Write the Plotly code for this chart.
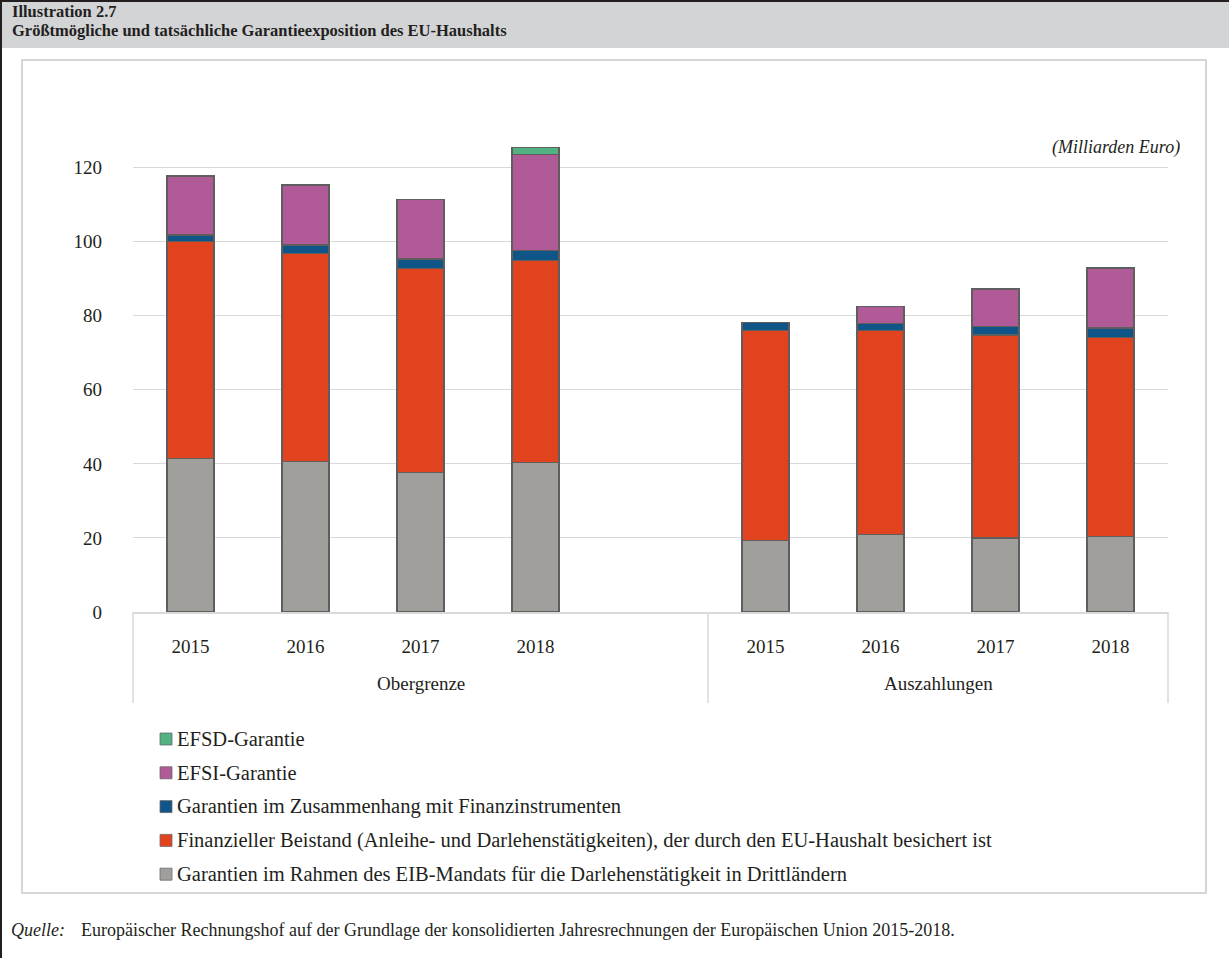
import plotly.graph_objects as go

W, H = 1229, 958

# ---- data (billion euro) -------------------------------------------------
years = ["2015", "2016", "2017", "2018"]
groups = ["Obergrenze", "Auszahlungen"]

# first four values: Obergrenze 2015-2018, last four: Auszahlungen 2015-2018
eib_mandat = [41.5, 40.7, 37.6, 40.3, 19.4, 21.0, 20.0, 20.3]
fin_beistand = [58.5, 56.1, 55.2, 54.7, 56.7, 54.9, 54.8, 53.9]
fin_instrumente = [1.8, 2.3, 2.5, 2.7, 2.1, 2.0, 2.2, 2.5]
efsi = [15.9, 16.2, 16.1, 25.9, None, 4.6, 10.2, 16.2]
efsd = [None, None, None, 1.9, None, None, None, None]

series_names = [
    "Garantien im Rahmen des EIB-Mandats für die Darlehenstätigkeit in Drittländern",
    "Finanzieller Beistand (Anleihe- und Darlehenstätigkeiten), der durch den EU-Haushalt besichert ist",
    "Garantien im Zusammenhang mit Finanzinstrumenten",
    "EFSI-Garantie",
    "EFSD-Garantie",
]
series_values = [eib_mandat, fin_beistand, fin_instrumente, efsi, efsd]
series_colors = ["#a09f9b", "#e2431f", "#0f5587", "#b05b98", "#52b282"]

# slot positions on the category axis: one empty slot separates the groups
slots = [0, 1, 2, 3, 5, 6, 7, 8]

# ---- geometry -------------------------------------------------------------
PL, PR, PT, PB = 133, 1168, 112, 612   # plot area in pixels
Y_MAX = 135
SERIF = "Liberation Serif"
INK = "#231f20"
GRID = "#d9d9d9"


def px(x):
    return (x - PL) / (PR - PL)


def py(y):
    return (PB - y) / (PB - PT)


fig = go.Figure()
for name, vals, col in zip(series_names, series_values, series_colors):
    fig.add_trace(go.Bar(
        x=slots, y=vals, name=name, width=0.41,
        marker=dict(color=col, line=dict(color="#5e5e5e", width=1.2)),
        showlegend=False,
    ))

shapes = []
annotations = []

# page frame and header band
shapes.append(dict(type="rect", xref="paper", yref="paper",
                   x0=px(0), x1=px(W), y0=py(0), y1=py(48),
                   fillcolor="#d3d4d6", line=dict(width=0), layer="below"))
shapes.append(dict(type="line", xref="paper", yref="paper",
                   x0=px(0), x1=px(W), y0=py(1), y1=py(1),
                   line=dict(color=INK, width=2)))
shapes.append(dict(type="line", xref="paper", yref="paper",
                   x0=px(1), x1=px(1), y0=py(0), y1=py(H),
                   line=dict(color=INK, width=2)))
# chart box
shapes.append(dict(type="rect", xref="paper", yref="paper",
                   x0=px(22), x1=px(1206), y0=py(60), y1=py(893),
                   line=dict(color="#c9c9c9", width=1.5), layer="below"))
# category separators below the axis
for xv in (PL, 708, PR):
    shapes.append(dict(type="line", xref="paper", yref="paper",
                       x0=px(xv), x1=px(xv), y0=py(PB), y1=py(703),
                       line=dict(color=GRID, width=1.5)))

# titles
annotations.append(dict(text="<b>Illustration 2.7</b>", xref="paper", yref="paper",
                        x=px(10), y=py(11), xanchor="left", yanchor="middle",
                        showarrow=False, font=dict(family=SERIF, size=16.5, color=INK)))
annotations.append(dict(text="<b>Größtmögliche und tatsächliche Garantieexposition des EU-Haushalts</b>",
                        xref="paper", yref="paper",
                        x=px(10), y=py(30), xanchor="left", yanchor="middle",
                        showarrow=False, font=dict(family=SERIF, size=16.5, color=INK)))
annotations.append(dict(text="<i>(Milliarden Euro)</i>", xref="paper", yref="paper",
                        x=px(1182), y=py(148), xanchor="right", yanchor="middle",
                        showarrow=False, font=dict(family=SERIF, size=18, color=INK)))

# group labels
for g, xc in zip(groups, ((PL + 708) / 2, (708 + PR) / 2)):
    annotations.append(dict(text=g, xref="paper", yref="paper",
                            x=px(xc), y=py(683), xanchor="center", yanchor="middle",
                            showarrow=False, font=dict(family=SERIF, size=19, color=INK)))

# legend (top row = last series)
for i, (name, col) in enumerate(zip(series_names[::-1], series_colors[::-1])):
    yc = 739 + i * 33.8
    shapes.append(dict(type="rect", xref="paper", yref="paper",
                       x0=px(160), x1=px(172), y0=py(yc - 6), y1=py(yc + 6),
                       fillcolor=col, line=dict(color="#6a6a6a", width=0.8)))
    annotations.append(dict(text=name, xref="paper", yref="paper",
                            x=px(175), y=py(yc), xanchor="left", yanchor="middle",
                            showarrow=False, font=dict(family=SERIF, size=20.5, color=INK)))

# source line
annotations.append(dict(text="<i>Quelle:</i>", xref="paper", yref="paper",
                        x=px(9), y=py(930), xanchor="left", yanchor="middle",
                        showarrow=False, font=dict(family=SERIF, size=18, color=INK)))
annotations.append(dict(text="Europäischer Rechnungshof auf der Grundlage der konsolidierten "
                             "Jahresrechnungen der Europäischen Union 2015-2018.",
                        xref="paper", yref="paper",
                        x=px(79), y=py(930), xanchor="left", yanchor="middle",
                        showarrow=False, font=dict(family=SERIF, size=18, color=INK)))

fig.update_layout(
    width=W, height=H,
    margin=dict(l=PL, r=W - PR, t=PT, b=H - PB),
    barmode="stack",
    plot_bgcolor="white", paper_bgcolor="white",
    font=dict(family=SERIF, size=19, color=INK),
    shapes=shapes, annotations=annotations,
    xaxis=dict(range=[-0.5, 8.5], tickvals=slots, ticktext=years * 2,
               showgrid=False, zeroline=False, showline=True,
               linecolor=GRID, linewidth=1.5, ticks="",
               ticklabelstandoff=16, tickfont=dict(size=19, color=INK)),
    yaxis=dict(range=[0, Y_MAX], tickvals=list(range(0, 121, 20)),
               showgrid=True, gridcolor=GRID, gridwidth=1.3,
               zeroline=False, showline=False, ticks="",
               ticklabelstandoff=30, tickfont=dict(size=19, color=INK)),
)

fig.write_html("out.html")
